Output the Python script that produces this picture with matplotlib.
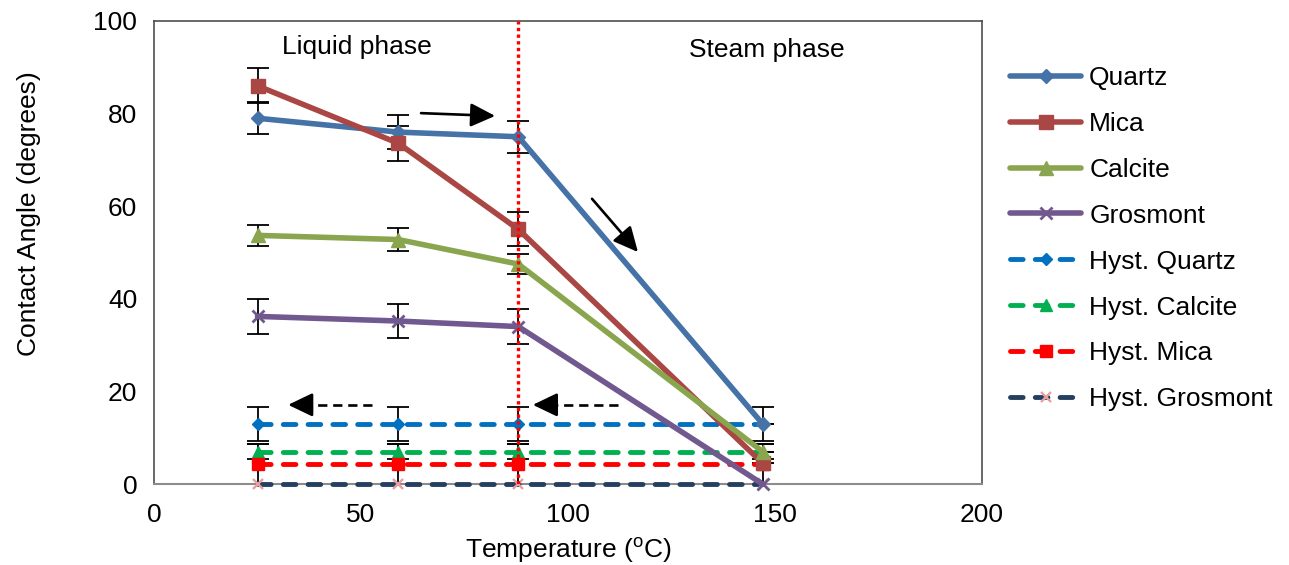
import matplotlib
matplotlib.use("Agg")
import matplotlib.pyplot as plt

plt.rcParams["font.family"] = ["Liberation Sans", "DejaVu Sans"]
plt.rcParams["mathtext.fontset"] = "custom"
plt.rcParams["mathtext.rm"] = "Liberation Sans"
plt.rcParams["font.size"] = 19

temps = [25, 59, 88, 147]

quartz = [79, 76, 75, 13]
mica = [86, 73.6, 55, 4.5]
calcite = [53.7, 52.8, 47.5, 7]
grosmont = [36.2, 35.2, 34, 0]

quartz_err = [3.5, 3.6, 3.5, 0]
mica_err = [3.8, 3.8, 3.7, 0]
calcite_err = [2.3, 2.4, 2.2, 0]
grosmont_err = [3.7, 3.6, 3.7, 0]

hyst_quartz = [13, 13, 13, 13]
hyst_calcite = [7, 7, 7, 7]
hyst_mica = [4.3, 4.3, 4.3, 4.3]
hyst_grosmont = [0, 0, 0, 0]

hyst_quartz_err = [3.7, 3.7, 3.7, 3.7]
hyst_calcite_err = [1.6, 1.6, 1.6, 1.6]
hyst_mica_err = [4.3, 4.3, 4.3, 4.3]

boundary_temp = 88

fig = plt.figure(figsize=(12.89, 5.65), dpi=100)
ax = fig.add_axes([154 / 1289, 1 - 484 / 565, 828 / 1289, 463 / 565])

# error bars below the lines
err_kw = dict(fmt="none", ecolor="black", elinewidth=1.3, capsize=8,
              capthick=1.3, zorder=2, clip_on=False)
for vals, errs in [(quartz, quartz_err), (mica, mica_err),
                   (calcite, calcite_err), (grosmont, grosmont_err),
                   (hyst_quartz, hyst_quartz_err),
                   (hyst_calcite, hyst_calcite_err),
                   (hyst_mica, hyst_mica_err)]:
    ax.errorbar(temps, vals, yerr=errs, **err_kw)

dash_kw = dict(lw=3.5, linestyle=(0, (2.6, 2.5)), dash_capstyle="round",
               zorder=3, clip_on=False)
ax.plot(temps, hyst_quartz, color="#0070C0", marker="D", ms=6.5,
        label="Hyst. Quartz", **dash_kw)
ax.plot(temps, hyst_calcite, color="#00B050", marker="^", ms=9,
        label="Hyst. Calcite", **dash_kw)
ax.plot(temps, hyst_mica, color="#FF0000", marker="s", ms=9,
        label="Hyst. Mica", **dash_kw)
ax.plot(temps, hyst_grosmont, color="#243F60", marker="x", ms=7.5, mew=1.7,
        mec="#E6A0A0", label="Hyst. Grosmont", **dash_kw)

solid_kw = dict(lw=4, solid_capstyle="round", zorder=4, clip_on=False)
ax.plot(temps, quartz, color="#4572A7", marker="D", ms=7.5,
        label="Quartz", **solid_kw)
ax.plot(temps, mica, color="#AA4643", marker="s", ms=10,
        label="Mica", **solid_kw)
ax.plot(temps, calcite, color="#89A54E", marker="^", ms=10,
        label="Calcite", **solid_kw)
ax.plot(temps, grosmont, color="#71588F", marker="x", ms=8.5, mew=2,
        label="Grosmont", **solid_kw)

ax.axvline(boundary_temp, color="#FF0000", lw=2.4, linestyle=(0, (1, 1)),
           zorder=6)

ax.set_xlim(0, 200)
ax.set_ylim(0, 100)
ax.set_xticks([0, 50, 100, 150, 200])
ax.set_yticks([0, 20, 40, 60, 80, 100])
ax.tick_params(length=0)
ax.tick_params(axis="x", pad=14)
ax.tick_params(axis="y", pad=12)
for side in ["top", "left", "right"]:
    ax.spines[side].set_color("#404040")
    ax.spines[side].set_linewidth(1.1)
ax.spines["bottom"].set_color("#8c8c8c")
ax.spines["bottom"].set_linewidth(1.5)

ax.set_xlabel("Temperature ($^{\\mathrm{o}}$C)", labelpad=6)
ax.set_ylabel("Contact Angle (degrees)")
ax.yaxis.set_label_coords(-0.136, 0.583)

ax.text(49, 94.4, "Liquid phase", ha="center", va="center")
ax.text(148, 93.7, "Steam phase", ha="center", va="center")

# direction arrows: solid for heating, dashed for cooling
arrow = "-|>,head_length=0.75,head_width=0.36"
head_kw = dict(arrowstyle=arrow, color="black", lw=1.9,
               mutation_scale=20, shrinkA=0, shrinkB=0)
for (x0, y0), (x1, y1) in [((64.5, 80.1), (82.4, 79.5)),
                           ((105.8, 61.6), (116.9, 50.1))]:
    ax.annotate("", xy=(x1, y1), xytext=(x0, y0), arrowprops=head_kw,
                zorder=7)
for (x0, y0), (x1, y1) in [((52.7, 17.1), (32.4, 17.1)),
                           ((112.1, 17.1), (91.5, 17.1))]:
    ax.plot([x0, x1 + 3], [y0, y1], color="black", lw=1.9,
            linestyle=(0, (3.5, 2.2)), zorder=7)
    ax.annotate("", xy=(x1, y1), xytext=(x1 + 4, y1), arrowprops=head_kw,
                zorder=7)

handles, labels = ax.get_legend_handles_labels()
order = ["Quartz", "Mica", "Calcite", "Grosmont", "Hyst. Quartz",
         "Hyst. Calcite", "Hyst. Mica", "Hyst. Grosmont"]
hmap = dict(zip(labels, handles))
fig.legend([hmap[k] for k in order], order, loc="upper left",
           bbox_to_anchor=(1010 / 1289, 1 - 66 / 565), frameon=False,
           borderpad=0, borderaxespad=0, handlelength=2.7,
           handletextpad=0.3, labelspacing=0.83, fontsize=19)

fig.savefig("out.png", dpi=100)
